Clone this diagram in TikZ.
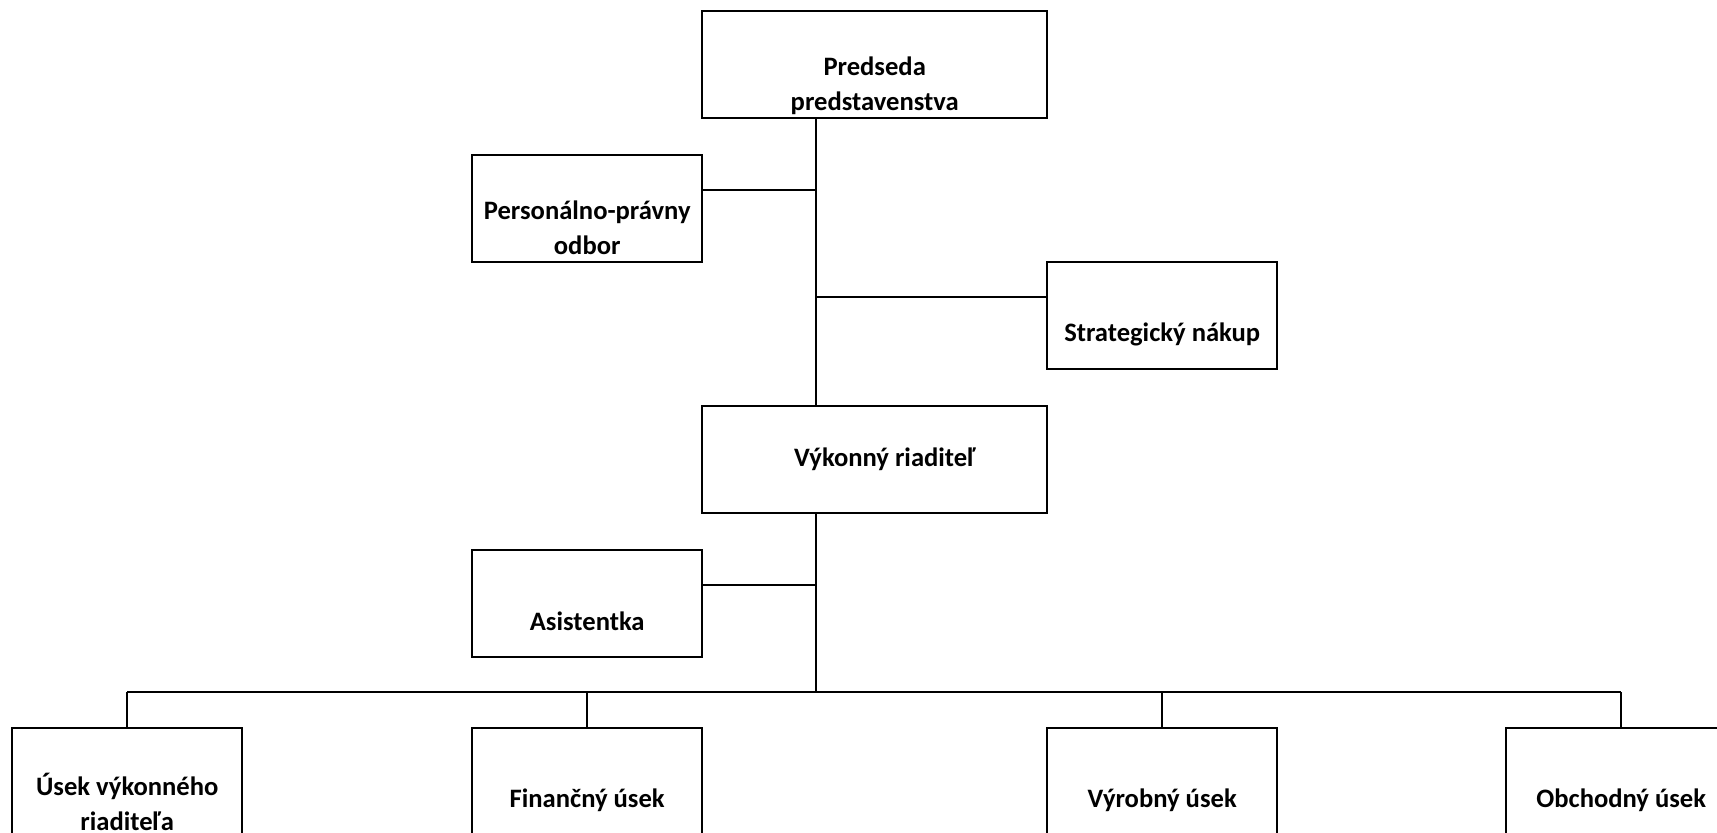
\documentclass[tikz,border=0pt]{standalone}
\usepackage{fontspec}
\setmainfont{Carlito}
\begin{document}
\begin{tikzpicture}[x=0.5pt,y=-0.5pt,
  box/.style={draw, line width=1.2pt, minimum width=115pt, minimum height=53.5pt, inner sep=0pt, anchor=north west},
  widebox/.style={box, minimum width=172.5pt},
  lbl/.style={font=\bfseries\fontsize{13.3}{17.5}\selectfont, align=center, inner sep=0pt},
  conn/.style={line width=1pt}]
\useasboundingbox (0,0) rectangle (1717,832);
% boxes
\node[widebox] (pred) at (701,10) {};
\node[box] (pers) at (471,154) {};
\node[box] (strat) at (1046,261) {};
\node[widebox] (vyk) at (701,405) {};
\node[box] (asis) at (471,549) {};
\node[box] (usek) at (11,727) {};
\node[box] (fin) at (471,727) {};
\node[box] (vyr) at (1046,727) {};
\node[box] (obch) at (1505,727) {};
% labels
\node[lbl] (predT) at ([yshift=-10.5pt]pred.center) {Predseda\\predstavenstva};
\node[lbl] (persT) at ([yshift=-9.5pt]pers.center) {Personálno-právny\\odbor};
\node[lbl] (stratT) at ([yshift=-9.5pt]strat.center) {Strategický nákup};
\node[lbl] (vykT) at ([xshift=5pt]vyk.center) {Výkonný riaditeľ};
\node[lbl] (asisT) at ([yshift=-9pt]asis.center) {Asistentka};
\node[lbl] (usekT) at ([yshift=-10pt]usek.center) {Úsek výkonného\\riaditeľa};
\node[lbl] (finT) at ([yshift=-9.5pt]fin.center) {Finančný úsek};
\node[lbl] (vyrT) at ([yshift=-9.5pt]vyr.center) {Výrobný úsek};
\node[lbl] (obchT) at ([yshift=-9.5pt]obch.center) {Obchodný úsek};
% connectors
\coordinate (trunk) at (816,0);
\coordinate (bus) at (816,692);
\coordinate (pj) at ([yshift=-18pt]pers.north east);
\coordinate (sj) at ([yshift=-18pt]strat.north west);
\coordinate (aj) at ([yshift=-18pt]asis.north east);
\draw[conn] (pred.south -| trunk) -- (vyk.north -| trunk);
\draw[conn] (vyk.south -| trunk) -- (bus);
\draw[conn] (pj) -- (pj -| trunk);
\draw[conn] (sj) -- (sj -| trunk);
\draw[conn] (aj) -- (aj -| trunk);
\draw[conn] (usek.north |- bus) -- (obch.north |- bus);
\draw[conn] (usek.north |- bus) -- (usek.north);
\draw[conn] (fin.north |- bus) -- (fin.north);
\draw[conn] (vyr.north |- bus) -- (vyr.north);
\draw[conn] (obch.north |- bus) -- (obch.north);
\end{tikzpicture}
\end{document}
